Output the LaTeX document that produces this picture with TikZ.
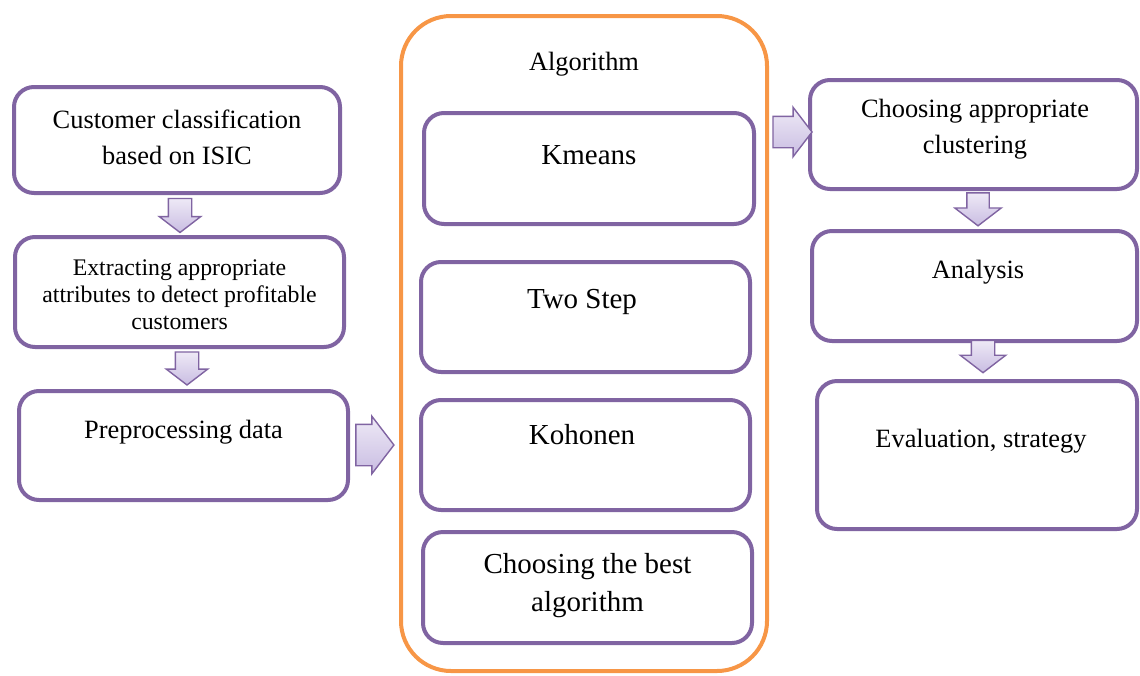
\documentclass[tikz,border=0pt]{standalone}
\usepackage{fontspec}
\setmainfont{Liberation Serif}
\usepackage{tikz}
\usetikzlibrary{shapes,shapes.arrows,positioning}
\definecolor{boxpurple}{HTML}{8064A2}
\definecolor{algorange}{HTML}{F79646}
\definecolor{arrowtop}{HTML}{EEE9F6}
\definecolor{arrowbot}{HTML}{C9BDE2}
\tikzset{
  box/.style 2 args={draw=boxpurple, line width=2pt, rounded corners=10pt, fill=white,
    minimum width=#1, minimum height=#2, inner sep=0pt},
  txt/.style={font=\fontsize{13.2}{18}\selectfont, align=center},
  bigtxt/.style={font=\fontsize{14.5}{19}\selectfont, align=center},
  smalltxt/.style={font=\fontsize{11.9}{13.5}\selectfont, align=center},
  % #1 half shaft, #2 head extend, #3 length
  blockarrow/.style n args={3}{single arrow, draw=boxpurple, line width=0.7pt,
    top color=arrowtop, bottom color=arrowbot, inner sep=#1,
    single arrow head extend=#2, minimum height=#3, single arrow tip angle=105,
    single arrow head indent=0pt},
  rightarrow/.style={inner xsep=0pt}
}
\begin{document}
\begin{tikzpicture}[x=0.5pt,y=-0.5pt]
\useasboundingbox (0,0) rectangle (1140,675);

% left column
\node[box={163pt}{53pt}] (b1) at (177,140) {};
\node[box={164.5pt}{55pt}] (b2) at (179.5,292) {};
\node[box={164.5pt}{54.5pt}] (b3) at (183.5,445.5) {};
\node[txt] (t1) at (177,137) {Customer classification\\based on ISIC};
\node[smalltxt] (t2) at (179.5,295) {Extracting appropriate\\attributes to detect profitable\\customers};
\node[txt] (t3) at (183.5,432) {Preprocessing data};

% algorithm container
\node[draw=algorange, line width=2pt, rounded corners=25pt, minimum width=183pt,
  minimum height=327.5pt, inner sep=0pt] (alg) at (584,343.5) {};
\node[txt] (talg) at (584,64) {Algorithm};
\node[box={165pt}{55.5pt}] (k1) at (589,168.5) {};
\node[box={164.5pt}{55pt}] (k2) at (585.5,317) {};
\node[box={164.5pt}{55pt}] (k3) at (585.5,455) {};
\node[box={164.5pt}{55.5pt}] (k4) at (587.5,587.5) {};
\node[bigtxt] (tk1) at (589,155) {Kmeans};
\node[bigtxt] (tk2) at (582,302) {Two Step};
\node[bigtxt] (tk3) at (582,435) {Kohonen};
\node[bigtxt] (tk4) at (587.5,586) {Choosing the best\\algorithm};

% right column
\node[box={163.5pt}{54.5pt}] (r1) at (973.5,134.5) {};
\node[box={162.5pt}{55pt}] (r2) at (974.5,286) {};
\node[box={160pt}{74pt}] (r3) at (977,455) {};
\node[txt] (tr1) at (975,129.5) {Choosing appropriate\\clustering};
\node[txt] (tr2) at (978,272) {Analysis};
\node[txt] (tr3) at (981,441) {Evaluation, strategy};

% block arrows
\node[blockarrow={5.5pt}{4.5pt}{17pt}, shape border rotate=270] (a1) at (180,211) {};
\node[blockarrow={5.5pt}{4.5pt}{16.5pt}, shape border rotate=270] (a2) at (187,364) {};
\node[blockarrow={10pt}{4pt}{19pt}, rightarrow] (a3) at (367,445) {};
\node[blockarrow={7.5pt}{4.5pt}{19.5pt}, rightarrow] (a4) at (786.5,132) {};
\node[blockarrow={5.25pt}{6pt}{16.5pt}, shape border rotate=270] (a5) at (978,205) {};
\node[blockarrow={5.5pt}{5.5pt}{16pt}, shape border rotate=270] (a6) at (983,352) {};

\end{tikzpicture}
\end{document}
